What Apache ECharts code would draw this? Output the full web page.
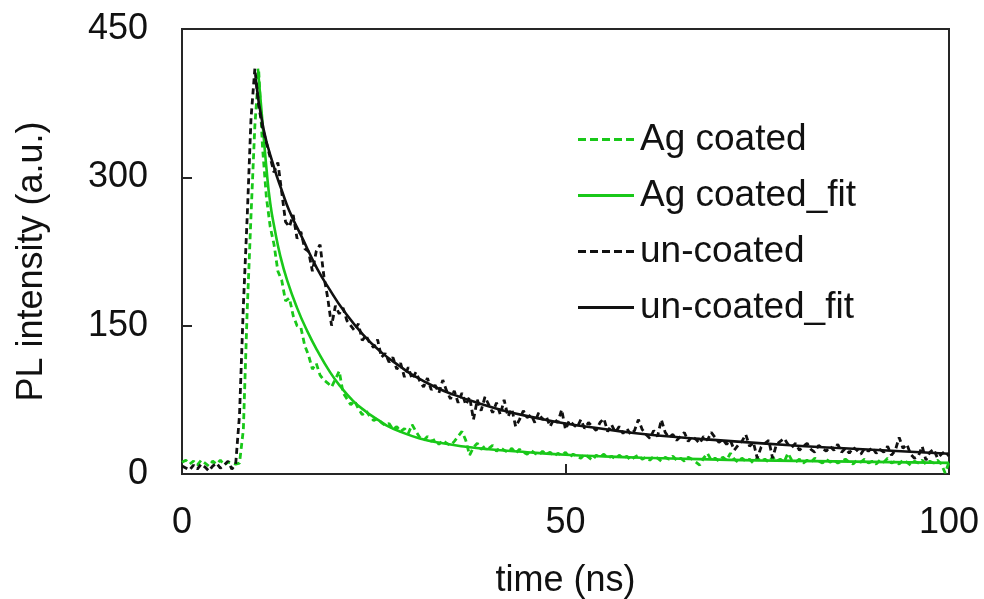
<!DOCTYPE html>
<html>
<head>
<meta charset="utf-8">
<script src="https://cdn.jsdelivr.net/npm/echarts@6/dist/echarts.min.js"></script>
<style>html,body{margin:0;padding:0;background:#fff;}#c{width:984px;height:599px;}</style>
</head>
<body>
<div id="c"></div>
<script>
// sampling grid of the measured decays (ns)
const timeStart = 0, timeStep = 0.5;

// un-coated measured PL intensity (a.u.), one value per 0.5 ns from 0 to 100 ns
const unCoated = [
  8, 6, 4, 9, 5, 10, 7, 3, 8, 11,
  6, 9, 13, 5, 10, 60, 170, 260, 360, 410,
  372, 350, 335, 320, 305, 315, 285, 255, 250, 262,
  238, 245, 228, 225, 205, 225, 232, 200, 178, 150,
  170, 162, 168, 155, 150, 145, 152, 135, 140, 132,
  128, 136, 118, 122, 113, 118, 106, 112, 98, 108,
  96, 103, 94, 88, 97, 85, 90, 82, 95, 84,
  76, 84, 72, 82, 70, 78, 55, 75, 64, 78,
  70, 62, 72, 60, 75, 58, 66, 48, 55, 64,
  57, 60, 52, 62, 55, 58, 48, 56, 52, 65,
  45, 54, 50, 47, 55, 46, 52, 48, 44, 52,
  56, 43, 50, 42, 48, 41, 46, 40, 44, 55,
  45, 40, 36, 44, 38, 55, 42, 37, 40, 34,
  38, 42, 33, 38, 35, 31, 38, 34, 42, 37,
  32, 35, 30, 34, 24, 29, 33, 40, 28, 32,
  16, 27, 31, 34, 16, 30, 33, 36, 30, 27,
  31, 24, 28, 31, 25, 22, 29, 26, 23, 28,
  24, 30, 22, 26, 21, 27, 24, 20, 26, 23,
  27, 21, 25, 22, 28, 19, 24, 37, 26, 30,
  20, 16, 18, 28, 14, 22, 25, 16, 20, 23,
  18
];

// Ag coated measured PL intensity (a.u.), same sampling
const agCoated = [
  12, 14, 10, 13, 9, 14, 11, 8, 13, 10,
  14, 9, 12, 11, 10, 11, 45, 165, 262, 352,
  408, 330, 280, 250, 232, 205, 196, 175, 178, 160,
  150, 148, 130, 120, 106, 112, 100, 95, 92, 88,
  96, 104, 82, 76, 70, 74, 66, 60, 64, 58,
  54, 56, 52, 49, 51, 45, 48, 43, 46, 41,
  50, 43, 37, 34, 38, 33, 35, 30, 34, 31,
  29, 33, 38, 43, 34, 19, 27, 31, 25, 28,
  26, 29, 23, 27, 24, 22, 26, 21, 25, 22,
  20, 24, 21, 19, 23, 20, 22, 18, 21, 19,
  22, 17, 20, 18, 16, 20, 17, 14, 19, 17,
  20, 16, 18, 15, 19, 16, 18, 14, 17, 19,
  15, 17, 14, 18, 16, 13, 17, 15, 18, 14,
  16, 13, 17, 15, 12, 9, 16, 21, 14, 16,
  13, 17, 14, 21, 15, 12, 16, 13, 15, 11,
  16, 13, 15, 12, 17, 13, 15, 12, 21, 14,
  12, 15, 11, 14, 12, 16, 13, 11, 15, 12,
  14, 11, 13, 15, 12, 10, 14, 12, 15, 11,
  13, 10, 14, 12, 16, 11, 13, 10, 14, 12,
  9, 13, 11, 14, 10, 13, 11, 14, 10, 1,
  12
];

// fit curves
const agFitTime = [9.9, 10.5, 11, 11.5, 12.1, 12.8, 13.7, 15, 16.3, 17.7, 19.3, 20.6, 22.3, 24, 25.5, 26.7, 28.4, 31, 34, 37, 40, 45, 50, 55, 60, 67.5, 75, 85, 95, 100];
const agFitValue = [410, 355, 310, 274, 247, 221, 196, 168, 145, 124, 103, 89, 74, 63, 55, 49, 43, 36, 31, 27.5, 25, 22, 19.5, 17.8, 16.5, 15, 13.8, 12.8, 11.8, 11.3];
const unFitTime = [9.6, 10.6, 12, 13, 14, 15.6, 17.6, 19.3, 21, 23.6, 26, 28.4, 30.1, 33, 35.5, 38.5, 42, 46, 50, 55, 58.4, 62, 67.5, 72, 79.3, 85, 90, 95, 100];
const unFitValue = [400, 350, 310, 287, 266, 240, 208, 186, 166, 141, 123, 109, 100, 88, 80, 72, 64, 57, 51, 45.5, 42, 39, 35.5, 33, 29, 26.5, 24.5, 22.5, 20.5];

const seriesNames = ['Ag coated', 'Ag coated_fit', 'un-coated', 'un-coated_fit'];
const xTicks = { min: 0, max: 100, interval: 50 };
const yTicks = { min: 0, max: 450, interval: 150 };

const GREEN = '#19c819', BLACK = '#111111';
const FONT = 'Liberation Sans, Arial, sans-serif';
const DASH_ICON = 'path://M0,0h8v3h-8z M12,0h8v3h-8z M24,0h8v3h-8z M36,0h8v3h-8z M48,0h8v3h-8z';
const SOLID_ICON = 'path://M0,0h56v3h-56z';

function sampled(values) { return values.map((v, i) => [timeStart + i * timeStep, v]); }
function paired(ts, vs) { return ts.map((t, i) => [t, vs[i]]); }

const chart = echarts.init(document.getElementById('c'), null, { renderer: 'canvas' });
chart.setOption({
  animation: false,
  backgroundColor: '#ffffff',
  textStyle: { fontFamily: FONT },
  grid: {
    left: 182, right: 35, top: 29, bottom: 125,
    show: true, borderColor: '#262626', borderWidth: 2, backgroundColor: 'transparent',
    containLabel: false, outerBoundsMode: 'none'
  },
  legend: {
    orient: 'vertical', left: 573, top: 116,
    itemWidth: 58, itemHeight: 3, itemGap: 19,
    textStyle: { fontFamily: FONT, fontSize: 37, color: '#111' },
    data: [
      { name: seriesNames[0], icon: DASH_ICON, itemStyle: { color: GREEN } },
      { name: seriesNames[1], icon: SOLID_ICON, itemStyle: { color: GREEN } },
      { name: seriesNames[2], icon: DASH_ICON, itemStyle: { color: BLACK } },
      { name: seriesNames[3], icon: SOLID_ICON, itemStyle: { color: BLACK } }
    ]
  },
  xAxis: {
    type: 'value', min: xTicks.min, max: xTicks.max, interval: xTicks.interval,
    name: 'time (ns)', nameLocation: 'middle', nameGap: 89,
    nameTextStyle: { fontFamily: FONT, fontSize: 36, color: '#111' },
    axisLine: { show: false },
    axisTick: { show: true, inside: true, length: 10, lineStyle: { color: '#262626', width: 2 } },
    axisLabel: { fontFamily: FONT, fontSize: 36, color: '#111', margin: 31 },
    splitLine: { show: false }
  },
  yAxis: {
    type: 'value', min: yTicks.min, max: yTicks.max, interval: yTicks.interval,
    name: 'PL intensity (a.u.)', nameLocation: 'middle', nameGap: 132,
    nameTextStyle: { fontFamily: FONT, fontSize: 36, color: '#111', padding: [0, 20, 0, 0] },
    axisLine: { show: false },
    axisTick: { show: true, inside: true, length: 10, lineStyle: { color: '#262626', width: 2 } },
    axisLabel: { fontFamily: FONT, fontSize: 36, color: '#111', margin: 34 },
    splitLine: { show: false }
  },
  series: [
    { name: seriesNames[0], type: 'line', data: sampled(agCoated), showSymbol: false, symbol: 'none',
      lineStyle: { color: GREEN, width: 2.8, type: [6, 4] }, itemStyle: { color: GREEN } },
    { name: seriesNames[1], type: 'line', data: paired(agFitTime, agFitValue), showSymbol: false, symbol: 'none',
      smooth: 0.5,
      lineStyle: { color: GREEN, width: 2.6 }, itemStyle: { color: GREEN } },
    { name: seriesNames[2], type: 'line', data: sampled(unCoated), showSymbol: false, symbol: 'none',
      lineStyle: { color: BLACK, width: 2.8, type: [6, 4] }, itemStyle: { color: BLACK } },
    { name: seriesNames[3], type: 'line', data: paired(unFitTime, unFitValue), showSymbol: false, symbol: 'none',
      smooth: 0.5,
      lineStyle: { color: BLACK, width: 2.6 }, itemStyle: { color: BLACK } }
  ]
});
</script>
</body>
</html>
